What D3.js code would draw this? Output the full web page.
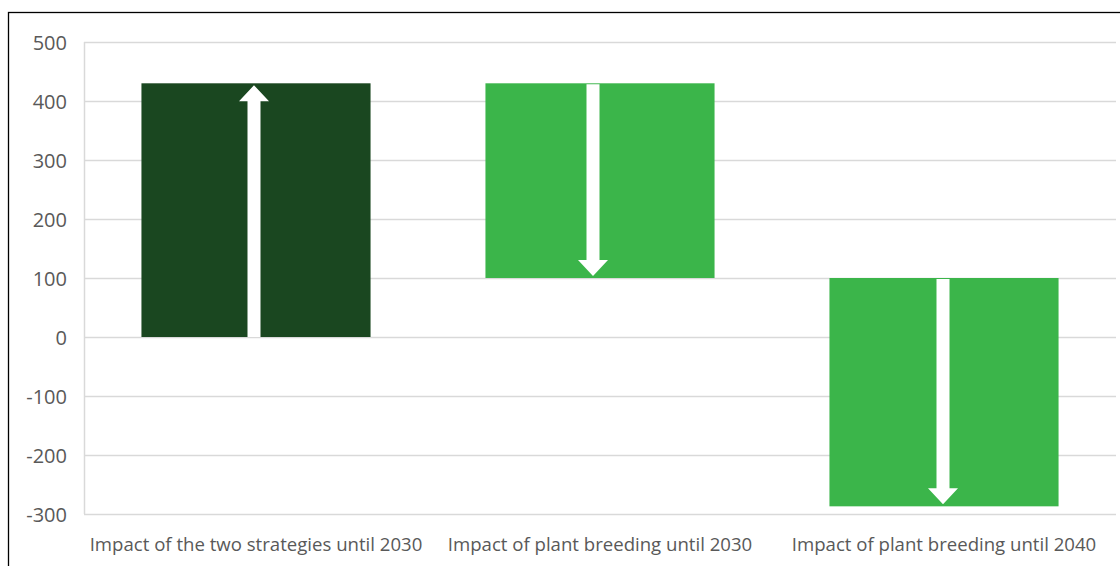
<!DOCTYPE html>
<html>
<head>
<meta charset="utf-8">
<script src="https://cdn.jsdelivr.net/npm/d3@7"></script>
<style>
  html, body { margin: 0; padding: 0; background: #fff; }
  svg { display: block; }
  text { font-family: "Open Sans", "Noto Sans", sans-serif; fill: #595959; }
</style>
</head>
<body>
<svg id="chart" width="1120" height="566"></svg>
<script>
// Waterfall steps: each bar runs from a start value to an end value
const categories = [
  "Impact of the two strategies until 2030",
  "Impact of plant breeding until 2030",
  "Impact of plant breeding until 2040"
];
const startValues = [0, 430, 100];
const endValues = [430, 100, -287];
const barColors = ["#1a4720", "#3bb54a", "#3bb54a"];
const yTicks = [500, 400, 300, 200, 100, 0, -100, -200, -300];

const svg = d3.select("#chart");
const W = 1120, H = 566;
const margin = { left: 84, right: 4, top: 42, bottom: 52 };

// frame around the chart area
svg.append("rect")
  .attr("x", 8.5).attr("y", 12.5)
  .attr("width", W + 10).attr("height", H + 10)
  .attr("fill", "none").attr("stroke", "#000").attr("stroke-width", 1.3);

const x = d3.scaleBand()
  .domain(categories)
  .range([margin.left, W - margin.right])
  .paddingInner(0.334).paddingOuter(0.167);

const y = d3.scaleLinear()
  .domain([-300, 500])
  .range([H - margin.bottom, margin.top]);

// horizontal gridlines
svg.append("g")
  .selectAll("line")
  .data(yTicks)
  .join("line")
  .attr("x1", margin.left).attr("x2", W - margin.right)
  .attr("y1", d => Math.round(y(d)) + 0.5).attr("y2", d => Math.round(y(d)) + 0.5)
  .attr("stroke", "#d9d9d9").attr("stroke-width", 1.5);

// vertical axis line
svg.append("line")
  .attr("x1", margin.left + 0.5).attr("x2", margin.left + 0.5)
  .attr("y1", y(500)).attr("y2", y(-300))
  .attr("stroke", "#d9d9d9").attr("stroke-width", 1.5);

// y axis labels (plain hyphen for negatives)
const yAxis = d3.axisLeft(y).tickValues(yTicks).tickSize(0).tickPadding(17)
  .tickFormat(d => String(d));
const gy = svg.append("g").attr("transform", `translate(${margin.left},0)`).call(yAxis);
gy.select(".domain").remove();
gy.selectAll("text")
  .attr("font-size", 20)
  .attr("font-family", "'Open Sans', sans-serif")
  .attr("fill", "#595959")
  .attr("dy", "0.36em");

// x axis labels
const xAxis = d3.axisBottom(x).tickSize(0).tickPadding(24);
const gx = svg.append("g").attr("transform", `translate(0,${y(-300)})`).call(xAxis);
gx.select(".domain").remove();
gx.selectAll("text")
  .attr("font-size", 18.6)
  .attr("font-family", "'Open Sans', sans-serif")
  .attr("fill", "#595959");

// bars
const steps = categories.map((c, i) => ({
  cat: c, start: startValues[i], end: endValues[i], color: barColors[i],
  offset: [-2, -7, -1][i]
}));

svg.append("g")
  .selectAll("rect")
  .data(steps)
  .join("rect")
  .attr("x", d => x(d.cat))
  .attr("width", x.bandwidth())
  .attr("y", d => y(Math.max(d.start, d.end)))
  .attr("height", d => Math.abs(y(d.start) - y(d.end)))
  .attr("fill", d => d.color);

// white arrows showing the direction of each step
const shaftW = 13, headW = 30, headH = 16;
svg.append("g")
  .selectAll("path")
  .data(steps)
  .join("path")
  .attr("fill", "#fff")
  .attr("d", d => {
    const cx = x(d.cat) + x.bandwidth() / 2 + d.offset;
    const y0 = y(d.start), y1 = y(d.end);
    const dir = y1 < y0 ? -1 : 1; // -1 = pointing up
    const yStart = y0 + (dir === 1 ? 1 : 0);
    const yTip = y1 - dir * 2;
    const yBase = yTip - dir * headH;
    return `M${cx - shaftW / 2},${yStart}` +
      `L${cx - shaftW / 2},${yBase}` +
      `L${cx - headW / 2},${yBase}` +
      `L${cx},${yTip}` +
      `L${cx + headW / 2},${yBase}` +
      `L${cx + shaftW / 2},${yBase}` +
      `L${cx + shaftW / 2},${yStart}Z`;
  });
</script>
</body>
</html>
